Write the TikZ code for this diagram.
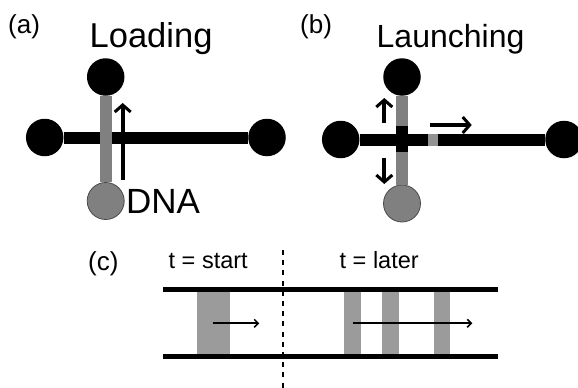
\documentclass[tikz,border=0pt]{standalone}
\usepackage{fontspec}
\setmainfont{Liberation Sans}
\usetikzlibrary{arrows.meta}

\definecolor{chipgray}{HTML}{808080}
\definecolor{bandgray}{HTML}{9B9B9B}
\definecolor{wellline}{HTML}{4A4A4A}

\tikzset{
    well/.style={circle,fill=black,minimum size=37.5pt,inner sep=0pt},
    loadwell/.style={circle,fill=chipgray,draw=wellline,line width=0.8pt,minimum size=37pt,inner sep=0pt},
    label/.style={anchor=base west,inner sep=0pt},
    chan/.style={line width=12pt,black},
    fillchan/.style={line width=12pt,chipgray},
    fatarrow/.style={line width=4.2pt,-{Straight Barb[length=7pt,width=16pt,line width=3pt]}},
    thinarrow/.style={line width=1.8pt,-{Straight Barb[length=4pt,width=8pt,line width=1.5pt]}},
    wall/.style={line width=4.5pt,black},
    band/.style={fill=bandgray,draw=none}
}

\begin{document}
\begin{tikzpicture}[x=1pt,y=-1pt]
        \useasboundingbox (0,0) rectangle (578,388);

        % Panel (a)
        \node[label,font=\fontsize{26}{28}\selectfont] (alabel) at (8,33) {(a)};
        \node[label,font=\fontsize{34.5}{36}\selectfont] (atitle) at (89.5,47) {Loading};
        \node[well] (atop) at (105.7,77) {};
        \node[well] (aleft) at (44.7,137.5) {};
        \node[well] (aright) at (267,137.5) {};
        \node[loadwell] (abottom) at (105.7,201) {};
        \draw[chan] (aleft) -- (aright);
        \draw[fillchan] (atop) -- (abottom);
        \coordinate (astart) at (122.7,180);
        \coordinate (aend) at (122.7,103);
        \draw[fatarrow] (astart) -- (aend);
        \node[label,font=\fontsize{35}{36}\selectfont] (dna) at (126,213) {DNA};

        % Panel (b)
        \node[label,font=\fontsize{26}{28}\selectfont] (blabel) at (300,33) {(b)};
        \node[label,font=\fontsize{32}{36}\selectfont] (btitle) at (376.5,47) {Launching};
        \node[well] (btop) at (402,77) {};
        \node[well] (bleft) at (340.7,139.5) {};
        \node[well] (bright) at (564,139.5) {};
        \node[loadwell] (bbottom) at (402,203.5) {};
        \draw[chan] (bleft) -- (bright);
        \draw[fillchan] (btop) -- (bbottom);
        \fill[black] (395.7,125.7) rectangle (407.7,152.3); % Cross block
        \fill[chipgray!85!white] (428,133.5) rectangle (438,145.5); % Plug
        \coordinate (bupstart) at (384.3,122.7);
        \coordinate (bupend) at (384.3,98);
        \coordinate (bdownstart) at (384.3,157.7);
        \coordinate (bdownend) at (384.3,184);
        \coordinate (brightstart) at (429.7,125);
        \coordinate (brightend) at (471.7,125);
        \draw[fatarrow] (bupstart) -- (bupend);
        \draw[fatarrow] (bdownstart) -- (bdownend);
        \draw[fatarrow] (brightstart) -- (brightend);

        % Panel (c)
        \node[label,font=\fontsize{26}{28}\selectfont] (clabel) at (88,270) {(c)};
        \node[label,font=\fontsize{23.5}{24}\selectfont] (tstart) at (168.5,268.5) {t = start};
        \node[label,font=\fontsize{23.5}{24}\selectfont] (tlater) at (339.5,268.5) {t = later};
        \fill[band] (196.7,289.7) rectangle (230,356.3);
        \fill[band] (344.3,289.7) rectangle (361,356.3);
        \fill[band] (382.3,289.7) rectangle (399,356.3);
        \fill[band] (433.7,289.7) rectangle (450.3,356.3);
        \coordinate (topa) at (163,289.7);
        \coordinate (topb) at (497.7,289.7);
        \coordinate (bota) at (163,356.3);
        \coordinate (botb) at (497.7,356.3);
        \draw[wall] (topa) -- (topb);
        \draw[wall] (bota) -- (botb);
        \coordinate (divtop) at (283,250);
        \coordinate (divbot) at (283,388);
        \draw[line width=2.4pt,dash pattern=on 5pt off 5.2pt] (divtop) -- (divbot);
        \coordinate (sstart) at (212.7,323.3);
        \coordinate (send) at (259.3,323.3);
        \coordinate (lstart) at (352.7,323.3);
        \coordinate (lend) at (472.3,323.3);
        \draw[thinarrow] (sstart) -- (send);
        \draw[thinarrow] (lstart) -- (lend);
\end{tikzpicture}
\end{document}
